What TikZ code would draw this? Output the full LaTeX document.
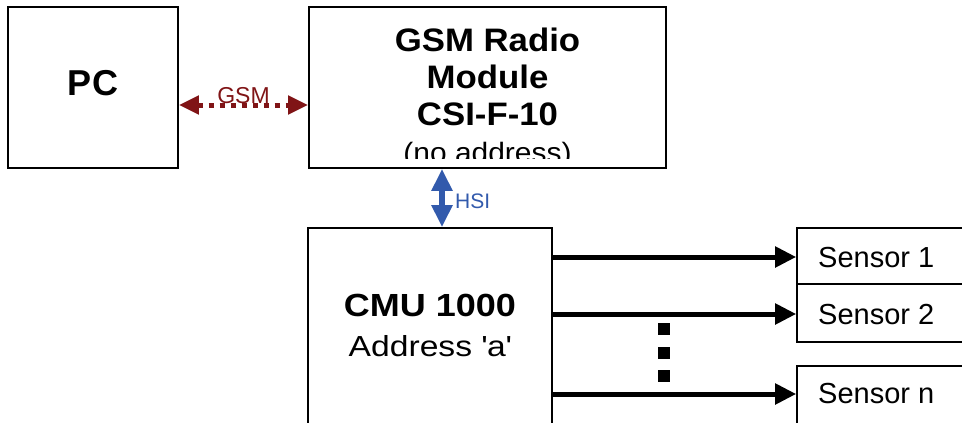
\documentclass[tikz,border=0pt]{standalone}
\usepackage{fontspec}
\setmainfont{Liberation Sans}
\newfontfamily\fsA[FakeStretch=1.07]{Liberation Sans}
\newfontfamily\fsB[FakeStretch=1.125]{Liberation Sans}
\newfontfamily\fsC[FakeStretch=1.16]{Liberation Sans}
\usetikzlibrary{arrows.meta}
\definecolor{gsmred}{RGB}{128,20,22}
\definecolor{hsiblue}{RGB}{50,90,172}
\begin{document}
\begin{tikzpicture}[x=1pt,y=-1pt,
  box/.style={draw=black,line width=1.8pt,rectangle,inner sep=0pt},
  sbox/.style={draw=black,line width=1.6pt,rectangle,inner sep=0pt},
  bigb/.style={font=\fsA\fontsize{32.5}{37}\selectfont\bfseries,anchor=base,inner sep=0pt},
  reg/.style={font=\fontsize{28}{33}\selectfont,anchor=base,inner sep=0pt},
  sens/.style={font=\fontsize{29}{34}\selectfont,anchor=base west,inner sep=0pt},
  sarrow/.style={line width=5pt,-{Triangle[length=21pt,width=20pt]}},
  dotsq/.style={fill=black,minimum size=12pt,inner sep=0pt,rectangle}]
\useasboundingbox (0,0) rectangle (962,423);
\clip (0,0) rectangle (962,423);
% boxes
\node[box,minimum width=170pt,minimum height=161pt] (pc) at (93,87.5) {};
\node[box,minimum width=357pt,minimum height=161pt] (gsm) at (487.5,87.5) {};
\node[box,minimum width=244pt,minimum height=232pt] (cmu) at (430,344) {};
\node[sbox,minimum width=183pt,minimum height=56pt] (s1) at (888.5,256) {};
\node[sbox,minimum width=183pt,minimum height=58pt] (s2) at (888.5,313) {};
\node[sbox,minimum width=183pt,minimum height=94pt] (sn) at (888.5,413) {};
% texts
\node[bigb,font=\fontsize{36}{40}\selectfont\bfseries] (pct) at (93,95.5) {PC};
\begin{scope}
\clip (309,7) rectangle (666,158);
\node[bigb] (g1) at (487.5,51) {GSM Radio};
\node[bigb] (g2) at (487.5,88) {Module};
\node[bigb] (g3) at (487.5,125) {CSI-F-10};
\node[reg,font=\fsA\fontsize{28}{33}\selectfont] (g4) at (487.5,162) {(no address)};
\end{scope}
\node[bigb,font=\fsB\fontsize{32}{40}\selectfont\bfseries] (c1) at (430,316) {CMU 1000};
\node[reg,font=\fsC\fontsize{29}{36}\selectfont] (c2) at (430,356) {Address \textquotesingle a\textquotesingle};
\node[sens] (st1) at (818,267) {Sensor 1};
\node[sens] (st2) at (818,324) {Sensor 2};
\node[sens] (stn) at (818,403) {Sensor n};
% GSM link
\coordinate (gy) at (0,105);
\draw[gsmred,line width=5pt,dash pattern=on 5pt off 6pt,
  {Triangle[length=20pt,width=18pt,fill=gsmred]}-{Triangle[length=20pt,width=18pt,fill=gsmred]}]
  (pc.east |- gy) -- (gsm.west |- gy);
\node[font=\fontsize{23}{26}\selectfont,text=gsmred,anchor=base,inner sep=0pt] (gsml) at (243.5,103) {GSM};
% HSI link
\coordinate (hx) at (442,0);
\draw[hsiblue,line width=6pt,{Triangle[length=22pt,width=20pt]}-{Triangle[length=22pt,width=20pt]}]
  (gsm.south -| hx) -- (cmu.north -| hx);
\node[font=\fontsize{21}{24}\selectfont,text=hsiblue,anchor=base west,inner sep=0pt] (hsil) at (455,208) {HSI};
% sensor arrows
\coordinate (a1) at (0,257);
\coordinate (a2) at (0,314);
\coordinate (an) at (0,394);
\draw[sarrow] (cmu.east |- a1) -- (s1.west |- a1);
\draw[sarrow] (cmu.east |- a2) -- (s2.west |- a2);
\draw[sarrow] (cmu.east |- an) -- (sn.west |- an);
% dots
\node[dotsq] (d1) at (664,328.5) {};
\node[dotsq] (d2) at (664,352.5) {};
\node[dotsq] (d3) at (664,376) {};
\end{tikzpicture}
\end{document}
